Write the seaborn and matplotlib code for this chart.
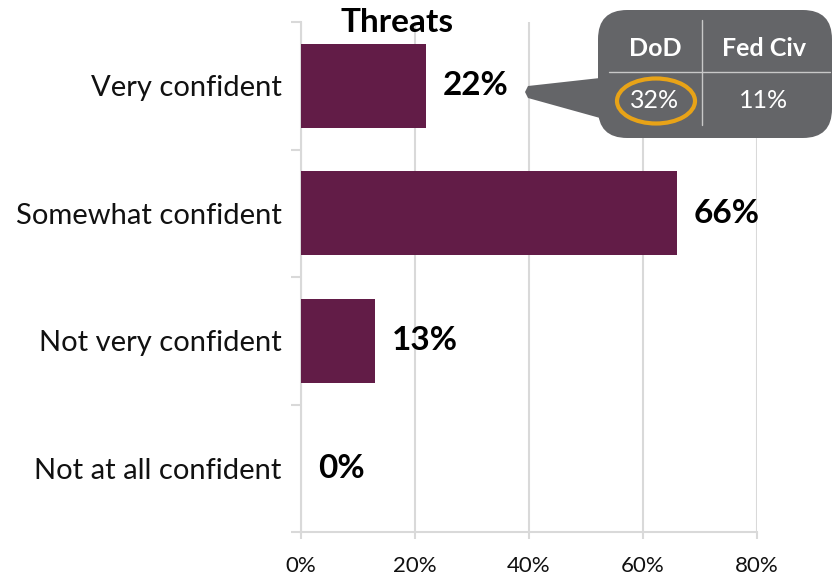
import matplotlib
matplotlib.use("Agg")
import matplotlib.pyplot as plt
import seaborn as sns
import pandas as pd
from matplotlib.patches import FancyBboxPatch, Polygon, Ellipse
from matplotlib.ticker import FuncFormatter, FixedLocator

categories = ["Very confident", "Somewhat confident", "Not very confident", "Not at all confident"]
values = [22, 66, 13, 0]
x_ticks = [0, 20, 40, 60, 80]
callout_headers = ["DoD", "Fed Civ"]
callout_values = ["32%", "11%"]

BAR = "#621C47"
GRID = "#D9D9D9"

sns.set_theme(style="white")
plt.rcParams["font.family"] = ["Lato", "DejaVu Sans"]

W, H = 833, 577
fig = plt.figure(figsize=(W / 100, H / 100), dpi=100)
ax = fig.add_axes([301 / W, 1 - 532 / H, (757 - 301) / W, (532 - 22) / H])

df = pd.DataFrame({"category": categories, "value": values})
sns.barplot(data=df, x="value", y="category", color=BAR, saturation=1,
            width=0.66, linewidth=0, edgecolor="none", ax=ax, zorder=3)

ax.set_xlim(0, 80)
ax.set_ylim(3.5, -0.5)
ax.xaxis.set_major_locator(FixedLocator(x_ticks))
ax.xaxis.set_major_formatter(FuncFormatter(lambda v, p: f"{v:.0f}%"))
ax.set_xlabel("")
ax.set_ylabel("")

# gridlines and spines
ax.grid(axis="x", color=GRID, linewidth=1.5, zorder=0)
for s in ["top", "right"]:
    ax.spines[s].set_visible(False)
for s in ["left", "bottom"]:
    ax.spines[s].set_color(GRID)
    ax.spines[s].set_linewidth(1.5)

# category ticks sit between bars on the left axis
ax.set_yticks(range(len(categories)))
ax.set_yticklabels(categories, fontsize=21, color="#111111")
ax.set_yticks([i - 0.5 for i in range(len(categories) + 1)], minor=True)
ax.tick_params(axis="y", which="major", left=True, length=0, pad=14)
ax.tick_params(axis="y", which="minor", left=True, length=7, width=1.5, color=GRID,
               direction="out")
ax.tick_params(axis="x", bottom=True, length=5, width=1.5, color=GRID, direction="out",
               labelsize=16, labelcolor="#111111", pad=12)

# value labels
for i, v in enumerate(values):
    ax.annotate(f"{v}%", xy=(v, i), xytext=(12, 0), textcoords="offset points",
                va="center", ha="left", fontsize=24, fontweight="bold", color="black")

def px(x, y):
    return (x / W, 1 - y / H)

fig.text(*px(397, 23), "Threats", ha="center", va="center", fontsize=24,
         fontweight="bold", color="black")

# callout box
tf = fig.transFigure
box = FancyBboxPatch(px(598, 138), (832 - 598) / W, (138 - 10) / H,
                     boxstyle="round,pad=0,rounding_size=0.035",
                     transform=tf, facecolor="#646568", edgecolor="none",
                     mutation_aspect=W / H, zorder=10)
fig.patches.append(box)
pointer = Polygon([px(600, 78), px(528, 86), px(525, 92), px(528, 98), px(600, 118)],
                  closed=True, transform=tf, facecolor="#646568", edgecolor="none", zorder=10)
fig.patches.append(pointer)

fig.add_artist(plt.Line2D([609 / W, 830 / W], [1 - 72 / H, 1 - 72 / H], transform=tf,
                          color="#C8C8C8", linewidth=1, zorder=11))
fig.add_artist(plt.Line2D([702 / W, 702 / W], [1 - 20 / H, 1 - 125 / H], transform=tf,
                          color="#C8C8C8", linewidth=1, zorder=11))

col_x = [655, 764]
for cx, hdr, val in zip(col_x, callout_headers, callout_values):
    fig.text(*px(cx, 48), hdr, ha="center", va="center", fontsize=18,
             fontweight="bold", color="white", zorder=12)
    fig.text(*px(cx, 101), val, ha="center", va="center", fontsize=18,
             color="white", zorder=12)

ring = Ellipse(px(656, 101), 78 / W, 45 / H, transform=tf, facecolor="none",
               edgecolor="#E8A317", linewidth=3, zorder=12)
fig.patches.append(ring)

fig.savefig("out.png", dpi=100)
